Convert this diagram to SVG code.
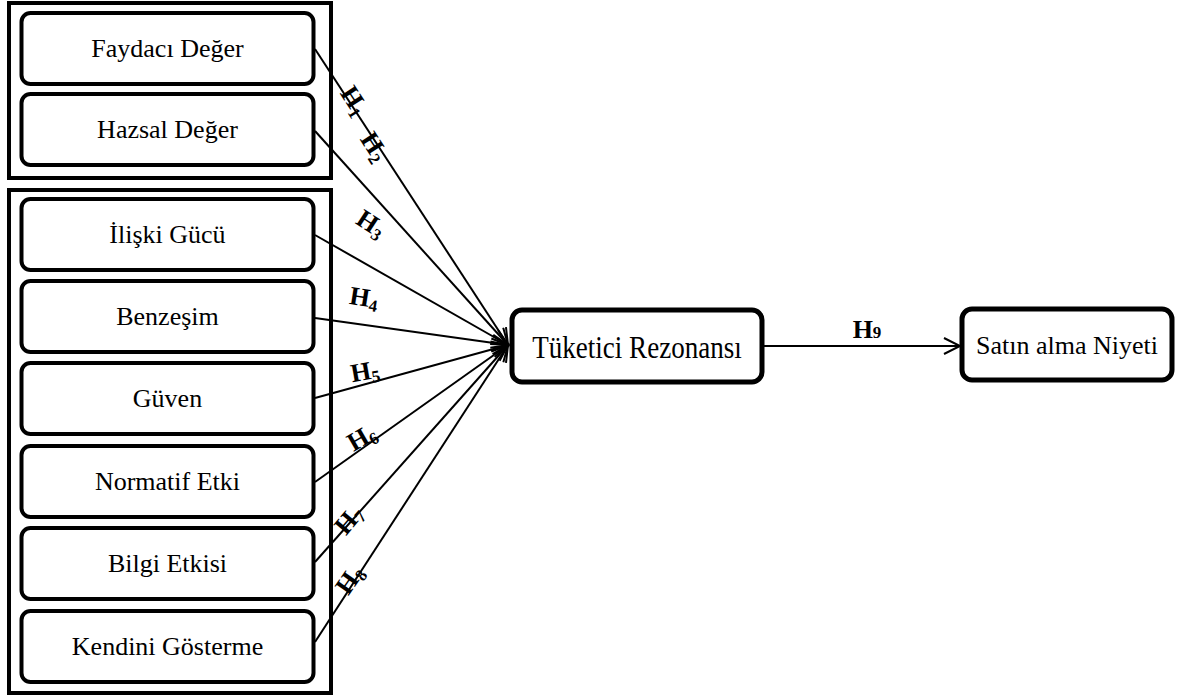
<svg xmlns="http://www.w3.org/2000/svg" width="1182" height="698" viewBox="0 0 1182 698">
<style>
.outer{fill:none;stroke:#000;stroke-width:4}
.box{fill:#fff;stroke:#000;stroke-width:4}
.bigbox{fill:#fff;stroke:#000;stroke-width:5}
.lbl{font-family:"Liberation Serif","Times New Roman",serif;font-size:26px;fill:#000;text-anchor:middle}
.h{font-family:"Liberation Serif","Times New Roman",serif;font-size:26px;font-weight:bold;fill:#000;text-anchor:middle}
.sub{font-size:17px}
.conn{fill:none;stroke:#000;stroke-width:2}
</style>
<defs>
<marker id="arr" markerUnits="userSpaceOnUse" markerWidth="20" markerHeight="20" refX="17" refY="9" orient="auto">
<path d="M1,1 L17,9 L1,17" fill="none" stroke="#000" stroke-width="2"/>
</marker>
</defs>
<rect class="outer" x="9" y="3" width="322" height="175"/>
<rect class="outer" x="9" y="190" width="322" height="503"/>
<g id="connectors">
<line class="conn" x1="315" y1="49" x2="508" y2="345" marker-end="url(#arr)"/>
<line class="conn" x1="315" y1="131" x2="508" y2="345" marker-end="url(#arr)"/>
<line class="conn" x1="315" y1="235" x2="508" y2="345" marker-end="url(#arr)"/>
<line class="conn" x1="315" y1="318" x2="508" y2="345" marker-end="url(#arr)"/>
<line class="conn" x1="315" y1="398" x2="508" y2="345" marker-end="url(#arr)"/>
<line class="conn" x1="315" y1="482" x2="508" y2="345" marker-end="url(#arr)"/>
<line class="conn" x1="315" y1="562" x2="508" y2="345" marker-end="url(#arr)"/>
<line class="conn" x1="315" y1="642" x2="508" y2="345" marker-end="url(#arr)"/>
<line class="conn" x1="763" y1="346" x2="960" y2="346" marker-end="url(#arr)"/>
<text class="h" transform="translate(354,101) rotate(57)" y="8">H<tspan class="sub" dy="4">1</tspan></text>
<text class="h" transform="translate(374,147) rotate(57)" y="8">H<tspan class="sub" dy="4">2</tspan></text>
<text class="h" transform="translate(371,224) rotate(33)" y="8">H<tspan class="sub" dy="4">3</tspan></text>
<text class="h" transform="translate(364,298) rotate(9)" y="8">H<tspan class="sub" dy="4">4</tspan></text>
<text class="h" transform="translate(365,372) rotate(-10)" y="8">H<tspan class="sub" dy="4">5</tspan></text>
<text class="h" transform="translate(362,438) rotate(-30)" y="8">H<tspan class="sub" dy="4">6</tspan></text>
<text class="h" transform="translate(349,520) rotate(-50)" y="8">H<tspan class="sub" dy="4">7</tspan></text>
<text class="h" transform="translate(350,580) rotate(-55)" y="8">H<tspan class="sub" dy="4">8</tspan></text>
<text class="h" x="867" y="338">H<tspan class="sub">9</tspan></text>
</g>
<g id="n1"><rect class="box" x="21.5" y="13" width="292" height="71" rx="9"/><text class="lbl" x="167.5" y="57">Faydacı Değer</text></g>
<g id="n2"><rect class="box" x="21.5" y="94" width="292" height="71" rx="9"/><text class="lbl" x="167.5" y="138">Hazsal Değer</text></g>
<g id="n3"><rect class="box" x="21.5" y="199" width="292" height="71" rx="9"/><text class="lbl" x="167.5" y="243">İlişki Gücü</text></g>
<g id="n4"><rect class="box" x="21.5" y="281" width="292" height="71" rx="9"/><text class="lbl" x="167.5" y="325">Benzeşim</text></g>
<g id="n5"><rect class="box" x="21.5" y="363" width="292" height="71" rx="9"/><text class="lbl" x="167.5" y="407">Güven</text></g>
<g id="n6"><rect class="box" x="21.5" y="446" width="292" height="71" rx="9"/><text class="lbl" x="167.5" y="490">Normatif Etki</text></g>
<g id="n7"><rect class="box" x="21.5" y="528" width="292" height="71" rx="9"/><text class="lbl" x="167.5" y="572">Bilgi Etkisi</text></g>
<g id="n8"><rect class="box" x="21.5" y="611" width="292" height="71" rx="9"/><text class="lbl" x="167.5" y="655">Kendini Gösterme</text></g>
<g id="n9"><rect class="bigbox" x="512" y="310" width="250" height="72" rx="10"/><text class="lbl" transform="translate(637,358) scale(1.04,1.2)" x="0" y="0">Tüketici Rezonansı</text></g>
<g id="n10"><rect class="bigbox" x="962" y="309" width="210" height="71" rx="10"/><text class="lbl" x="1067" y="354">Satın alma Niyeti</text></g>
</svg>
